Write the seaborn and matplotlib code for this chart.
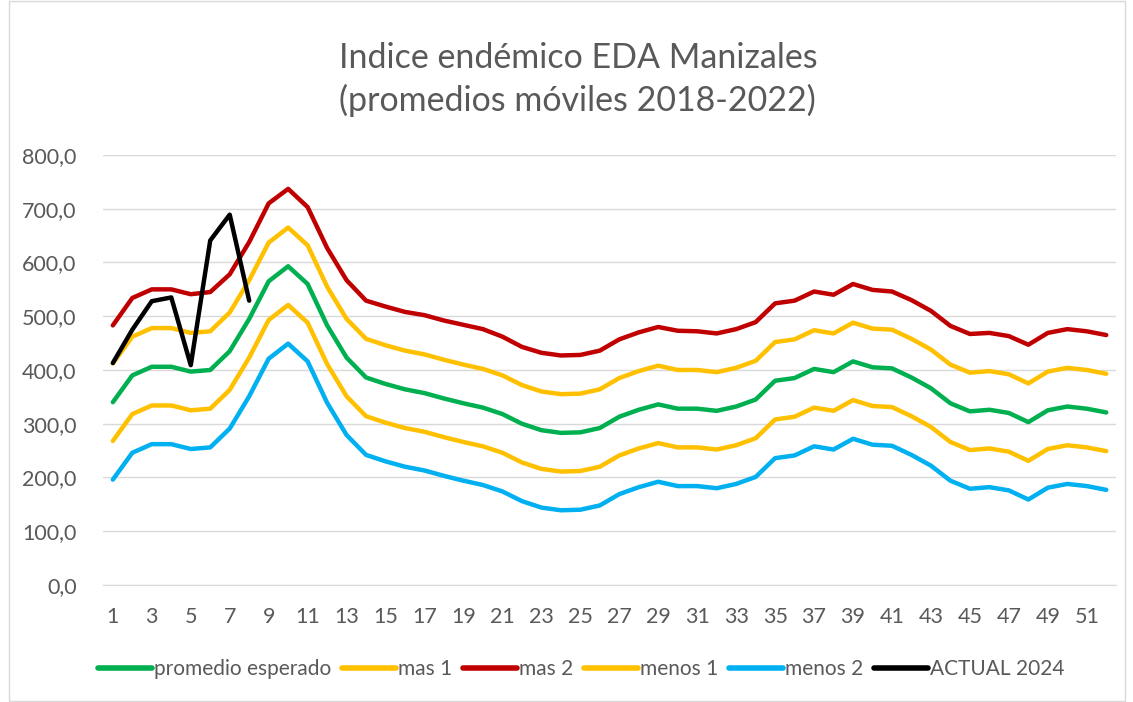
import pandas as pd
import matplotlib.pyplot as plt
import seaborn as sns
from matplotlib.patches import Rectangle
from matplotlib.ticker import FuncFormatter

# semanas epidemiologicas 1..52
semanas = list(range(1, 53))

promedio_esperado = [340, 390, 406, 406, 397, 400, 435, 495, 565, 593,
                     560, 483, 423, 386, 374, 364, 357, 347, 338, 330,
                     318, 300, 288, 283, 284, 292, 313, 326, 336, 328,
                     328, 324, 332, 345, 380, 385, 402, 396, 416, 405,
                     403, 386, 366, 338, 323, 326, 320, 303, 325, 332,
                     328, 321]
mas_1 = [412, 462, 478, 478, 469, 472, 507, 567, 637, 665,
         632, 555, 495, 458, 446, 436, 429, 419, 410, 402,
         390, 372, 360, 355, 356, 364, 385, 398, 408, 400,
         400, 396, 404, 417, 452, 457, 474, 468, 488, 477,
         475, 458, 438, 410, 395, 398, 392, 375, 397, 404,
         400, 393]
mas_2 = [483, 534, 550, 550, 541, 545, 578, 638, 710, 737,
         703, 627, 567, 529, 518, 508, 502, 492, 484, 476,
         462, 443, 432, 427, 428, 436, 457, 470, 480, 473,
         472, 468, 476, 489, 524, 529, 546, 540, 560, 549,
         546, 530, 510, 482, 467, 469, 463, 447, 469, 476,
         472, 465]
menos_1 = [268, 318, 334, 334, 325, 328, 363, 423, 493, 521,
           488, 411, 351, 314, 302, 292, 285, 275, 266, 258,
           246, 228, 216, 211, 212, 220, 241, 254, 264, 256,
           256, 252, 260, 273, 308, 313, 330, 324, 344, 333,
           331, 314, 294, 266, 251, 254, 248, 231, 253, 260,
           256, 249]
menos_2 = [196, 246, 262, 262, 253, 256, 291, 351, 421, 449,
           416, 339, 279, 242, 230, 220, 213, 203, 194, 186,
           174, 156, 144, 139, 140, 148, 169, 182, 192, 184,
           184, 180, 188, 201, 236, 241, 258, 252, 272, 261,
           259, 242, 222, 194, 179, 182, 176, 159, 181, 188,
           184, 177]
actual_2024 = [413, 475, 528, 535, 409, 641, 689, 529]

series = {
    'promedio esperado': promedio_esperado,
    'mas 1': mas_1,
    'mas 2': mas_2,
    'menos 1': menos_1,
    'menos 2': menos_2,
    'ACTUAL 2024': actual_2024,
}
colores = {
    'promedio esperado': '#00B050',
    'mas 1': '#FFC000',
    'mas 2': '#C00000',
    'menos 1': '#FFC000',
    'menos 2': '#00B0F0',
    'ACTUAL 2024': '#000000',
}

filas = []
for nombre, valores in series.items():
    for sem, v in zip(semanas, valores):
        filas.append({'semana': sem, 'casos': v, 'serie': nombre})
df = pd.DataFrame(filas)

sns.set_style('white')
plt.rcParams['font.family'] = ['Lato', 'DejaVu Sans']
gris = '#595959'

fig = plt.figure(figsize=(11.33, 7.02), dpi=100)
ax = fig.add_axes([0.091, 0.1667, 0.894, 0.6125])

sns.lineplot(data=df, x='semana', y='casos', hue='serie',
             hue_order=list(series.keys()), palette=colores,
             linewidth=3.2, ax=ax, legend=True)

ax.set_xlim(0.5, 52.5)
ax.set_ylim(0, 800)
ax.set_yticks(range(0, 801, 100))
ax.yaxis.set_major_formatter(FuncFormatter(lambda v, p: f'{v:.1f}'.replace('.', ',')))
ax.set_xticks(range(1, 53, 2))
ax.grid(axis='y', color='#D9D9D9', linewidth=1)
ax.set_axisbelow(True)
for s in ['top', 'right', 'left']:
    ax.spines[s].set_visible(False)
ax.spines['bottom'].set_color('#D9D9D9')
ax.tick_params(axis='both', length=0, labelsize=15.5, colors=gris)
ax.tick_params(axis='y', pad=19)
ax.tick_params(axis='x', pad=16)
ax.set_xlabel('')
ax.set_ylabel('')

fig.text(0.51, 0.918, 'Indice endémico EDA Manizales', ha='center', va='center',
         fontsize=24.5, color=gris)
fig.text(0.51, 0.857, '(promedios móviles 2018-2022)', ha='center', va='center',
         fontsize=24.5, color=gris)

handles, labels = ax.get_legend_handles_labels()
for h in handles:
    h.set_linewidth(4)
ax.legend(handles, labels, loc='center', bbox_to_anchor=(0.513, 0.047),
          bbox_transform=fig.transFigure, ncol=6, frameon=False,
          fontsize=15, labelcolor=gris, handlelength=2.6, handletextpad=0.1,
          columnspacing=0.5)

fig.patches.append(Rectangle((0.008, 0.002), 0.985, 0.996, transform=fig.transFigure,
                             fill=False, edgecolor='#D9D9D9', linewidth=1))

fig.savefig('out.png', dpi=100)
